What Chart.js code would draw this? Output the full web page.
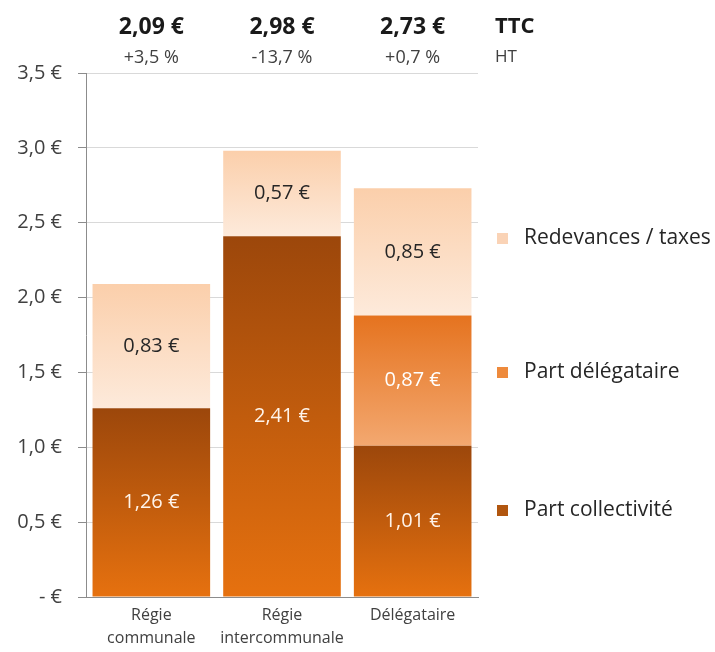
<!DOCTYPE html>
<html>
<head>
<meta charset="utf-8">
<script src="https://cdn.jsdelivr.net/npm/chart.js@4/dist/chart.umd.min.js"></script>
<style>
html, body { margin: 0; padding: 0; background: #fff; }
#wrap { width: 715px; height: 652px; }
</style>
</head>
<body>
<div id="wrap"><canvas id="chart"></canvas></div>
<script>
const categories = [['Régie', 'communale'], ['Régie', 'intercommunale'], ['Délégataire']];
const partCollectivite = [1.26, 2.41, 1.01];
const partDelegataire = [0, 0, 0.87];
const redevances = [0.83, 0.57, 0.85];
const totalsTTC = ['2,09 €', '2,98 €', '2,73 €'];
const evolutions = ['+3,5 %', '-13,7 %', '+0,7 %'];
const yTickLabels = ['- €', '0,5 €', '1,0 €', '1,5 €', '2,0 €', '2,5 €', '3,0 €', '3,5 €'];
const seriesNames = ['Part collectivité', 'Part délégataire', 'Redevances / taxes'];

const FONT = "'Open Sans', 'DejaVu Sans', sans-serif";
Chart.defaults.font.family = FONT;
Chart.defaults.color = '#404040';

// dégradé vertical par segment (haut foncé -> bas clair)
function segmentGradient(top, bottom) {
    return (ctx) => {
        const chart = ctx.chart;
        const y = chart.scales.y;
        if (!chart.chartArea || !y || ctx.type !== 'data') return top;
        const i = ctx.dataIndex;
        let base = 0;
        for (let k = 0; k < ctx.datasetIndex; k++) base += chart.data.datasets[k].data[i];
        const v = chart.data.datasets[ctx.datasetIndex].data[i];
        const y0 = y.getPixelForValue(base + v);
        const y1 = y.getPixelForValue(base);
        if (!isFinite(y0) || !isFinite(y1) || y1 - y0 < 1) return top;
        const g = chart.ctx.createLinearGradient(0, y0, 0, y1);
        g.addColorStop(0, top);
        g.addColorStop(1, bottom);
        return g;
    };
}

const fmt = v => v.toFixed(2).replace('.', ',') + ' €';

const segmentLabels = {
    id: 'segmentLabels',
    afterDatasetsDraw(chart) {
        const ctx = chart.ctx;
        const colors = ['#fff4ea', '#ffffff', '#262626'];
        ctx.save();
        ctx.font = '20px ' + FONT;
        ctx.textAlign = 'center';
        ctx.textBaseline = 'middle';
        chart.data.datasets.forEach((ds, d) => {
            chart.getDatasetMeta(d).data.forEach((bar, i) => {
                const v = ds.data[i];
                if (!v) return;
                ctx.fillStyle = colors[d];
                ctx.fillText(fmt(v), bar.x, (bar.y + bar.base) / 2);
            });
        });
        ctx.restore();
    }
};

const header = {
    id: 'header',
    afterDraw(chart) {
        const ctx = chart.ctx;
        const x = chart.scales.x;
        ctx.save();
        ctx.textBaseline = 'middle';
        ctx.textAlign = 'center';
        totalsTTC.forEach((t, i) => {
            ctx.fillStyle = '#1a1a1a';
            ctx.font = 'bold 23px ' + FONT;
            ctx.fillText(t, x.getPixelForValue(i), 27);
            ctx.font = '18px ' + FONT;
            ctx.fillStyle = '#404040';
            ctx.fillText(evolutions[i], x.getPixelForValue(i), 58);
        });
        ctx.textAlign = 'left';
        ctx.fillStyle = '#1a1a1a';
        ctx.font = 'bold 22px ' + FONT;
        ctx.fillText('TTC', 495, 27);
        ctx.font = '17px ' + FONT;
        ctx.fillStyle = '#404040';
        ctx.fillText('HT', 495, 57);
        ctx.restore();
    }
};

const sideLegend = {
    id: 'sideLegend',
    afterDraw(chart) {
        const ctx = chart.ctx;
        const swatches = ['#b1560f', '#ee8a3c', '#fad3b6'];
        const rows = [510, 372, 238];
        ctx.save();
        ctx.font = '21px ' + FONT;
        ctx.textBaseline = 'middle';
        ctx.textAlign = 'left';
        seriesNames.forEach((name, d) => {
            ctx.fillStyle = swatches[d];
            ctx.fillRect(497, rows[d] - 5, 11, 11);
            ctx.fillStyle = '#262626';
            ctx.fillText(name, 524, rows[d]);
        });
        ctx.restore();
    }
};

new Chart(document.getElementById('chart'), {
    type: 'bar',
    data: {
        labels: categories,
        datasets: [{
            label: seriesNames[0],
            data: partCollectivite,
            backgroundColor: segmentGradient('#9c470b', '#e6710f')
        }, {
            label: seriesNames[1],
            data: partDelegataire,
            backgroundColor: segmentGradient('#e5731f', '#f3a870')
        }, {
            label: seriesNames[2],
            data: redevances,
            backgroundColor: segmentGradient('#fbcfab', '#fdeadb')
        }]
    },
    options: {
        responsive: true,
        maintainAspectRatio: false,
        animation: false,
        layout: { padding: { top: 73, right: 237, bottom: 0, left: 0 } },
        datasets: { bar: { barPercentage: 0.9, categoryPercentage: 1.0, borderWidth: 0 } },
        plugins: {
            legend: { display: false },
            tooltip: { enabled: false }
        },
        scales: {
            x: {
                stacked: true,
                grid: { display: false, drawTicks: false },
                border: { display: true, color: '#8c8c8c' },
                ticks: {
                    font: { size: 16, lineHeight: 1.45 },
                    color: '#404040',
                    padding: 7,
                    autoSkip: false,
                    maxRotation: 0,
                    minRotation: 0
                },
                afterFit: s => { s.height = 55; }
            },
            y: {
                stacked: true,
                min: 0,
                max: 3.5,
                ticks: {
                    stepSize: 0.5,
                    padding: 16,
                    font: { size: 20 },
                    color: '#404040',
                    callback: (v, i) => yTickLabels[i]
                },
                grid: { color: '#d9d9d9', tickLength: 8, tickColor: '#8c8c8c' },
                border: { display: true, color: '#8c8c8c' },
                afterFit: s => { s.width = 86; }
            }
        }
    },
    plugins: [segmentLabels, header, sideLegend]
});
</script>
</body>
</html>
